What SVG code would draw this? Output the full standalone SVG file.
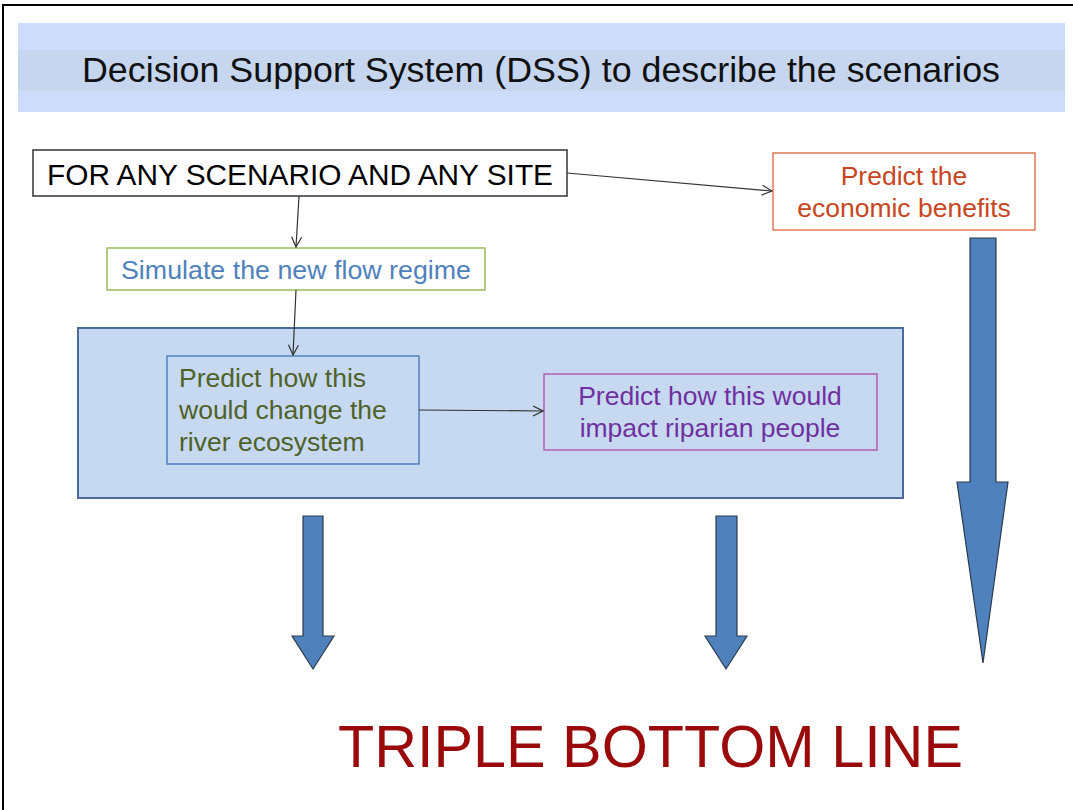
<svg xmlns="http://www.w3.org/2000/svg" width="1073" height="810" viewBox="0 0 1073 810">
  <style>
    text { font-family: "Liberation Sans", Arial, sans-serif; }
    .box { stroke-width: 1.5; }
    .label { font-size: 26.5px; }
    .conn { fill: none; stroke: #333; stroke-width: 1.2; }
    .block { fill: #4f81bd; stroke: #2b3a4d; stroke-width: 1.2; stroke-linejoin: miter; }
  </style>
  <defs>
    <marker id="open" viewBox="0 0 12 12" refX="11" refY="6" markerWidth="12" markerHeight="12" markerUnits="userSpaceOnUse" orient="auto">
      <path d="M1,1 L11,6 L1,11" fill="none" stroke="#333" stroke-width="1.2"/>
    </marker>
  </defs>

  <!-- page -->
  <rect x="0" y="0" width="1073" height="810" fill="#ffffff"/>
  <rect x="3" y="5" width="1080" height="820" fill="none" stroke="#000" stroke-width="2"/>

  <!-- title band -->
  <g id="title">
    <rect x="18" y="23" width="1047" height="89" fill="#ccdcfa"/>
    <rect x="18" y="50" width="1047" height="41" fill="#c6d6ef"/>
    <text x="82" y="82" font-size="35" fill="#111" textLength="918" lengthAdjust="spacingAndGlyphs">Decision Support System (DSS) to describe the scenarios</text>
  </g>

  <!-- container for ecosystem / people predictions -->
  <g id="dss-core">
    <rect x="78" y="328" width="825" height="170" fill="#c6d9f1" stroke="#4a6c9b" stroke-width="2"/>
  </g>

  <g id="any-scenario">
    <rect class="box" x="33" y="150" width="534" height="46" fill="#fff" stroke="#333"/>
    <text x="47" y="185" font-size="30" fill="#000" textLength="506" lengthAdjust="spacingAndGlyphs">FOR ANY SCENARIO AND ANY SITE</text>
  </g>

  <g id="economic">
    <rect class="box" x="773" y="153" width="262" height="77" fill="#fff" stroke="#e07a55"/>
    <text class="label" x="904" y="185" fill="#c8461e" text-anchor="middle">Predict the</text>
    <text class="label" x="904" y="217" fill="#c8461e" text-anchor="middle">economic benefits</text>
  </g>

  <g id="flow-regime">
    <rect class="box" x="107" y="248" width="378" height="42" fill="#fff" stroke="#9bbb59"/>
    <text class="label" x="121" y="279" fill="#4f81bd" textLength="350" lengthAdjust="spacingAndGlyphs">Simulate the new flow regime</text>
  </g>

  <g id="ecosystem">
    <rect class="box" x="167" y="356" width="252" height="108" fill="#c6d9f1" stroke="#4f81bd"/>
    <text class="label" x="179" y="387" fill="#4f6228">Predict how this</text>
    <text class="label" x="179" y="419" fill="#4f6228">would change the</text>
    <text class="label" x="179" y="451" fill="#4f6228">river ecosystem</text>
  </g>

  <g id="people">
    <rect class="box" x="544" y="374" width="333" height="76" fill="#c6d9f1" stroke="#b060b0"/>
    <text class="label" x="710" y="405" fill="#7030a0" text-anchor="middle">Predict how this would</text>
    <text class="label" x="710" y="437" fill="#7030a0" text-anchor="middle">impact riparian people</text>
  </g>

  <!-- connectors -->
  <g id="connectors">
    <path class="conn" d="M567,173 L772,191" marker-end="url(#open)"/>
    <path class="conn" d="M299,196 L296,247" marker-end="url(#open)"/>
    <path class="conn" d="M296,290 L293,355" marker-end="url(#open)"/>
    <path class="conn" d="M419,410 L543,411" marker-end="url(#open)"/>
    <path class="block" d="M303,516 L323,516 L323,636 L334,636 L313,669 L292,636 L303,636 Z"/>
    <path class="block" d="M716,516 L737,516 L737,636 L747,636 L726,669 L705,636 L716,636 Z"/>
    <path class="block" d="M970,238 L996,238 L996,482 L1008,482 L983,663 L957,482 L970,482 Z"/>
  </g>

  <g id="triple-bottom-line">
    <text x="338" y="767" font-size="60" fill="#9a0a0a" textLength="625" lengthAdjust="spacingAndGlyphs">TRIPLE BOTTOM LINE</text>
  </g>
</svg>
